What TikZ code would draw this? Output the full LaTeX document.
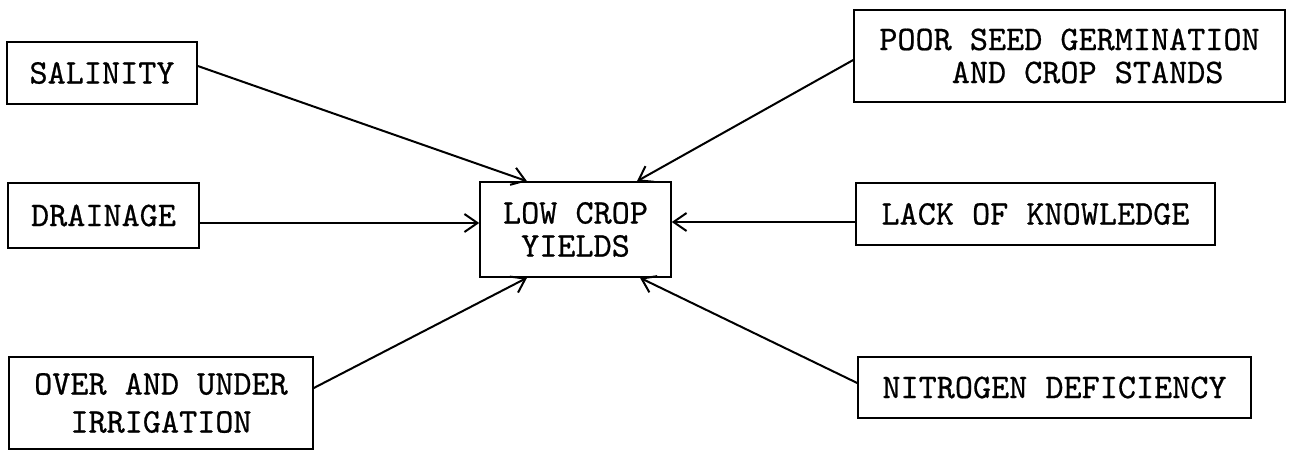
\documentclass[tikz,border=0pt]{standalone}
\usepackage{fontspec}
\newfontfamily\tw{lmmono10-regular.otf}[FakeBold=0.6]
\usetikzlibrary{arrows.meta}
\begin{document}
\begin{tikzpicture}[x=1pt,y=-1pt,
  box/.style={draw, line width=1.6pt, inner sep=0pt, align=center,
    font=\tw\fontsize{34.5}{33}\selectfont},
  arr/.style={line width=2pt, -{Straight Barb[length=13pt,width=18pt,line width=2pt]}}]
\fill[white] (0,0) rectangle (1295,450);
\clip (0,0) rectangle (1295,450);
\node[box, minimum width=190pt, minimum height=62pt] (sal) at (102,73) {SALINITY};
\node[box, minimum width=191pt, minimum height=65pt] (drain) at (103.5,215.5) {DRAINAGE};
\node[box, minimum width=304pt, minimum height=92pt] (over) at (161,403) {OVER AND UNDER\\[5pt]IRRIGATION};
\node[box, minimum width=191pt, minimum height=95pt] (low) at (575.5,229.5) {LOW CROP\\YIELDS};
\node[box, minimum width=431pt, minimum height=92pt, align=left] (poor) at (1069.5,56) {POOR SEED GERMINATION\\\phantom{XXXX}AND CROP STANDS};
\node[box, minimum width=359pt, minimum height=62pt] (lack) at (1035.5,214) {LACK OF KNOWLEDGE};
\node[box, minimum width=393pt, minimum height=61pt] (nit) at (1054.5,387.5) {NITROGEN DEFICIENCY};
\draw[arr] ([yshift=7pt]sal.east) -- ([xshift=-48.5pt]low.north);
\draw[arr] ([yshift=-7.5pt]drain.east) -- ([yshift=6.5pt]low.west);
\draw[arr] ([yshift=15pt]over.east) -- ([xshift=-48.5pt]low.south);
\draw[arr] ([yshift=-4pt]poor.west) -- ([xshift=61.5pt]low.north);
\draw[arr] ([yshift=-8pt]lack.west) -- ([yshift=7.5pt]low.east);
\draw[arr] ([yshift=4.5pt]nit.west) -- ([xshift=64.5pt]low.south);
\end{tikzpicture}
\end{document}
